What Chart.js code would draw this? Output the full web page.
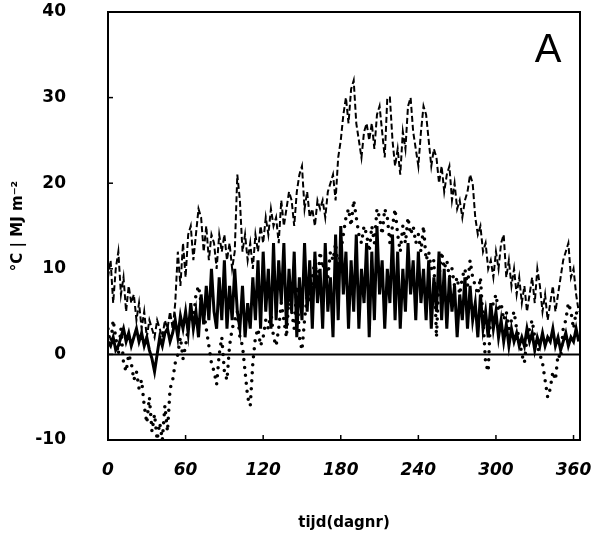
<!DOCTYPE html>
<html><head><meta charset="utf-8">
<script src="https://cdn.jsdelivr.net/npm/chart.js@4"></script>
<style>html,body{margin:0;padding:0;background:#fff}#wrap{width:595px;height:540px}</style>
</head><body><div id="wrap"><canvas id="c" width="595" height="540" style="width:595px;height:540px"></canvas></div>
<script>
const days = [
0,2,4,6,8,10,12,14,16,18,
20,22,24,26,28,30,32,34,36,38,
40,42,44,46,48,50,52,54,56,58,
60,62,64,66,68,70,72,74,76,78,
80,82,84,86,88,90,92,94,96,98,
100,102,104,106,108,110,112,114,116,118,
120,122,124,126,128,130,132,134,136,138,
140,142,144,146,148,150,152,154,156,158,
160,162,164,166,168,170,172,174,176,178,
180,182,184,186,188,190,192,194,196,198,
200,202,204,206,208,210,212,214,216,218,
220,222,224,226,228,230,232,234,236,238,
240,242,244,246,248,250,252,254,256,258,
260,262,264,266,268,270,272,274,276,278,
280,282,284,286,288,290,292,294,296,298,
300,302,304,306,308,310,312,314,316,318,
320,322,324,326,328,330,332,334,336,338,
340,342,344,346,348,350,352,354,356,358,
360,362,364];

// dashed series (MJ m-2)
const radiation = [
9,11,6,10,12,7,9,5,8,6,
7,4,6,3,5,2,4,3,2,4,
3,2,4,3,5,3,6,12,8,13,
9,14,15,11,14,17,16,12,15,11,
14,13,10,14,12,14,11,13,10,12,
21,18,12,14,11,13,10,14,12,15,
13,16,14,17,15,16,13,18,15,17,
19,18,15,19,21,22,17,19,16,17,
15,18,17,18,16,19,20,21,18,23,
25,28,30,27,31,32,27,25,23,26,
27,25,27,24,28,29,26,23,30,30,
25,22,24,21,26,24,29,30,26,24,
22,26,29,28,25,22,24,23,20,22,
19,21,22,18,20,17,18,16,18,19,
21,20,16,14,15,12,13,10,11,9,
12,10,13,14,9,11,8,10,7,9,
6,8,5,7,9,6,10,8,5,7,
4,6,8,5,7,9,11,12,13,9,
10,7,5];

// solid series
const solidSeries = [
1.5,1,2,0.5,1,2,3,1.5,2.5,1,
2,3,1.5,2.5,1,2,0.5,-0.5,-2,0,
2,1,2.5,3,1.5,2.5,4,2,4.5,3,
5,2.5,6,3,5,2,7,3.5,8,4,
10,5,3,9,4,11,3,8,4,10,
5,3,8,2,6,3,9,4,11,3,
12,5,10,3,13,4,11,6,13,3,
10,5,12,2,9,4,13,5,11,3,
12,6,10,3,13,5,9,2,14,4,
15,7,12,3,11,5,14,3,10,6,
13,2,12,4,15,7,11,3,10,6,
14,4,12,3,10,5,13,7,11,4,
12,6,10,4,11,3,9,5,12,4,
10,3,9,5,8,2,7,4,9,3,
8,4,6,2,7,3,5,2,6,3,
5,2,4,1.5,3.5,1,3,1.5,2.5,1,
2,1,3,1.5,2.5,0.5,2,1,2.5,1,
2,1.5,3,1,2,0.5,1.5,2.5,1,2,
1.5,3,1.5];

// dotted series (°C)
const temperature = [
3,1,4,2,0,3,-1,-2,0,-1,
-3,-2,-4,-3,-6,-8,-5,-9,-7,-10,
-8,-10,-6,-9,-4,-3,-1,0,2,-0.5,
1,3,5,4,7,8,6,5,3,1,
-1,-2,-3.5,0,2,-2,-3,1,3,4,
5,2,1,-2,-5,-6,-1,2,3,1,
2,4,3,5,2,1,3,6,4,2,
7,5,3,8,2,0.5,4,7,6,9,
11,8,12,10,11,9,12,11,13,10,
12,14,16,17,15,18,16,14,13,15,
14,12,15,13,17,16,14,17,16,13,
15,17,14,12,15,13,16,14,15,13,
14,12,15,11,12,10,11,2,9,12,
10,11,9,10,8,9,7,9,10,8,
11,9,8,7,9,4,-1,-2,5,6,
7,5,6,4,5,3,4,5,3,2,
0,-1,2,3,4,2,1,0,-1,-3,
-5,-4,-2,-3,0,-0.5,3,4,6,5,
3,5,4];

const xTicks = [0,60,120,180,240,300,360];
const yTicks = [-10,0,10,20,30,40];

const pts = arr => days.map((d,i)=>({x:d, y:arr[i]}));

const framePlugin = {
  id:'frame',
  beforeDatasetsDraw(chart){
    const {ctx, chartArea:a, scales:{y}} = chart;
    const y0 = y.getPixelForValue(0);
    ctx.save();
    ctx.strokeStyle='#000'; ctx.lineWidth=2;
    ctx.beginPath(); ctx.moveTo(a.left,y0); ctx.lineTo(a.right,y0); ctx.stroke();
    ctx.restore();
  },
  afterDraw(chart){
    const {ctx, chartArea:a, scales:{x,y}} = chart;
    ctx.save();
    ctx.strokeStyle='#000'; ctx.lineWidth=2;
    ctx.strokeRect(a.left, a.top, a.right-a.left, a.bottom-a.top);
    ctx.lineWidth=1.5;
    xTicks.forEach(v=>{const px=x.getPixelForValue(v); ctx.beginPath(); ctx.moveTo(px,a.bottom); ctx.lineTo(px,a.bottom-5); ctx.stroke();});
    yTicks.forEach(v=>{const py=y.getPixelForValue(v); ctx.beginPath(); ctx.moveTo(a.left,py); ctx.lineTo(a.left+5,py); ctx.stroke();});
    ctx.fillStyle='#000';
    ctx.font='40px "Liberation Sans"';
    ctx.textAlign='center'; ctx.textBaseline='alphabetic';
    ctx.fillText('A', a.right-32, a.top+50);
    ctx.restore();
  }
};

new Chart(document.getElementById('c'), {
  type:'line',
  data:{
    datasets:[
      {label:'solid', data:pts(solidSeries), borderColor:'#000', borderWidth:3, pointRadius:0, tension:0, order:0},
      {label:'temperature', data:pts(temperature), borderColor:'#000', borderWidth:3.5, borderDash:[0,8], borderCapStyle:'round', pointRadius:0, tension:0, order:1},
      {label:'radiation', data:pts(radiation), borderColor:'#000', borderWidth:2, borderDash:[6,3], pointRadius:0, tension:0, order:2}
    ]
  },
  options:{
    responsive:false, animation:false,
    layout:{padding:{left:0, right:15, top:12, bottom:0}},
    plugins:{legend:{display:false}, tooltip:{enabled:false}},
    scales:{
      x:{
        type:'linear', min:0, max:365,
        afterFit(s){ s.height = 100; s.paddingLeft = 0; s.paddingRight = 0; },
        afterBuildTicks(s){ s.ticks = xTicks.map(v=>({value:v})); },
        grid:{display:false, drawTicks:false}, border:{display:false},
        ticks:{padding:20, maxRotation:0, autoSkip:false, color:'#000',
          font:{family:'DejaVu Sans', weight:'bold', style:'italic', size:17}},
        title:{display:true, text:'tijd(dagnr)', color:'#000',
          font:{family:'DejaVu Sans', weight:'bold', size:15}, padding:{top:0, bottom:8}}
      },
      y:{
        min:-10, max:40,
        afterFit(s){ s.width = 108; s.paddingTop = 0; s.paddingBottom = 0; },
        afterBuildTicks(s){ s.ticks = yTicks.map(v=>({value:v})); },
        grid:{display:false, drawTicks:false}, border:{display:false},
        ticks:{padding:42, color:'#000', font:{family:'DejaVu Sans', weight:'bold', size:17}},
        title:{display:true, text:'°C | MJ m⁻²', color:'#000',
          font:{family:'DejaVu Sans', weight:'bold', size:15}, padding:{top:9, bottom:0}}
      }
    }
  },
  plugins:[framePlugin]
});
</script>
</body></html>
